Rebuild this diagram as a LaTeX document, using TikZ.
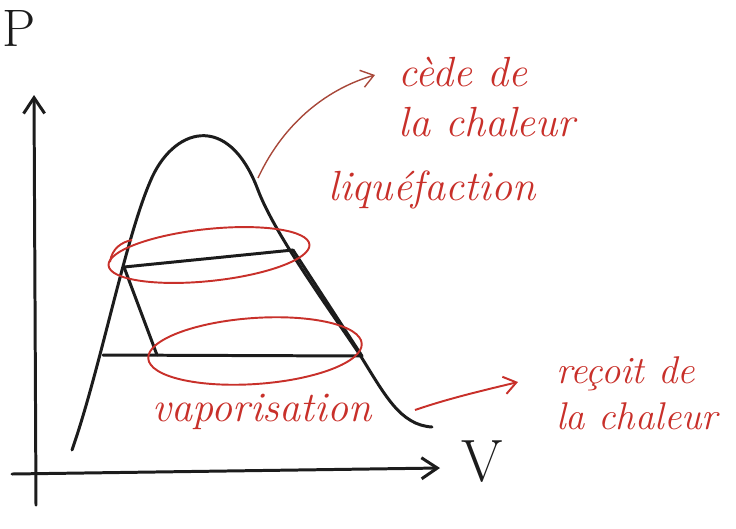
\documentclass[tikz,border=0pt]{standalone}
\usepackage{tikz}
\usetikzlibrary{positioning,arrows.meta,calc}
\definecolor{penblack}{HTML}{1C1C1C}
\definecolor{penred}{HTML}{C8302A}
\definecolor{penbrown}{HTML}{A8483A}

\begin{document}
\begin{tikzpicture}[x=0.02cm,y=-0.02cm,
    every node/.style={font=\itshape\fontsize{24}{28}\selectfont},
    pen/.style={draw=penblack, line width=1.7pt, line cap=round, line join=round},
    redpen/.style={draw=penred, line width=1.1pt},
    note/.style={text=penred, align=left, inner sep=0pt}]
  \useasboundingbox (0,0) rectangle (736,528);
  % axes
  \coordinate (xfrom) at (12,474);
  \coordinate (xto) at (440,468);
  \coordinate (yfrom) at (36,505);
  \coordinate (yto) at (34,95);
  \draw[pen,-{Straight Barb[length=9pt,width=12pt]}] (xfrom) -- (xto);
  \draw[pen,-{Straight Barb[length=9pt,width=12pt]}] (yfrom) -- (yto);
  \node[text=penblack,font=\fontsize{30}{30}\selectfont] (P) at (19,28) {P};
  \node[text=penblack,font=\fontsize{34}{34}\selectfont] (V) at (482,462) {V};
  % saturation dome
  \draw[pen] (72,450) .. controls (100,370) and (125,240) .. (150,182)
    .. controls (172,128) and (228,110) .. (258,190)
    .. controls (275,235) and (330,310) .. (360,355)
    .. controls (385,395) and (400,425) .. (432,427);
  % cycle
  \coordinate (ul) at (124,267);
  \coordinate (ur) at (293,250);
  \coordinate (ll) at (157,355);
  \coordinate (lr) at (362,356);
  \coordinate (lfar) at (103,355);
  \draw[pen] (ul) -- (ur);
  \draw[pen] (lfar) -- (lr);
  \draw[pen] (ul) -- (ll);
  \draw[pen] (ur) -- (lr);
  % red rings
  \coordinate (ring1) at (209,255);
  \coordinate (ring2) at (255,351);
  \draw[redpen,rotate around={6:(ring1)}] (ring1) ellipse [x radius=101, y radius=26];
  \draw[redpen] (110,262) .. controls (112,248) and (122,242) .. (132,240);
  \draw[redpen,rotate around={4:(ring2)}] (ring2) ellipse [x radius=107, y radius=33];
  % labels
  \node[note] (cede) at (487,97) {c\`ede de\\la chaleur};
  \node[note] (liq) at (432,190) {liqu\'efaction};
  \node[note] (vap) at (262,412) {vaporisation};
  \node[note,font=\itshape\fontsize{22}{26}\selectfont] (recoit) at (637,393) {re\c{c}oit de\\la chaleur};
  % arrows
  \coordinate (top) at (258,178);
  \coordinate (topend) at (375,75);
  \coordinate (bot) at (415,410);
  \coordinate (botend) at (518,382);
  \draw[draw=penbrown,line width=0.8pt,-{Straight Barb[length=7pt,width=10pt]}] (top) .. controls (285,120) and (330,88) .. (topend);
  \draw[draw=penred,line width=1.1pt,-{Straight Barb[length=7pt,width=10pt]}] (bot) .. controls (450,398) and (485,390) .. (botend);
\end{tikzpicture}
\end{document}
